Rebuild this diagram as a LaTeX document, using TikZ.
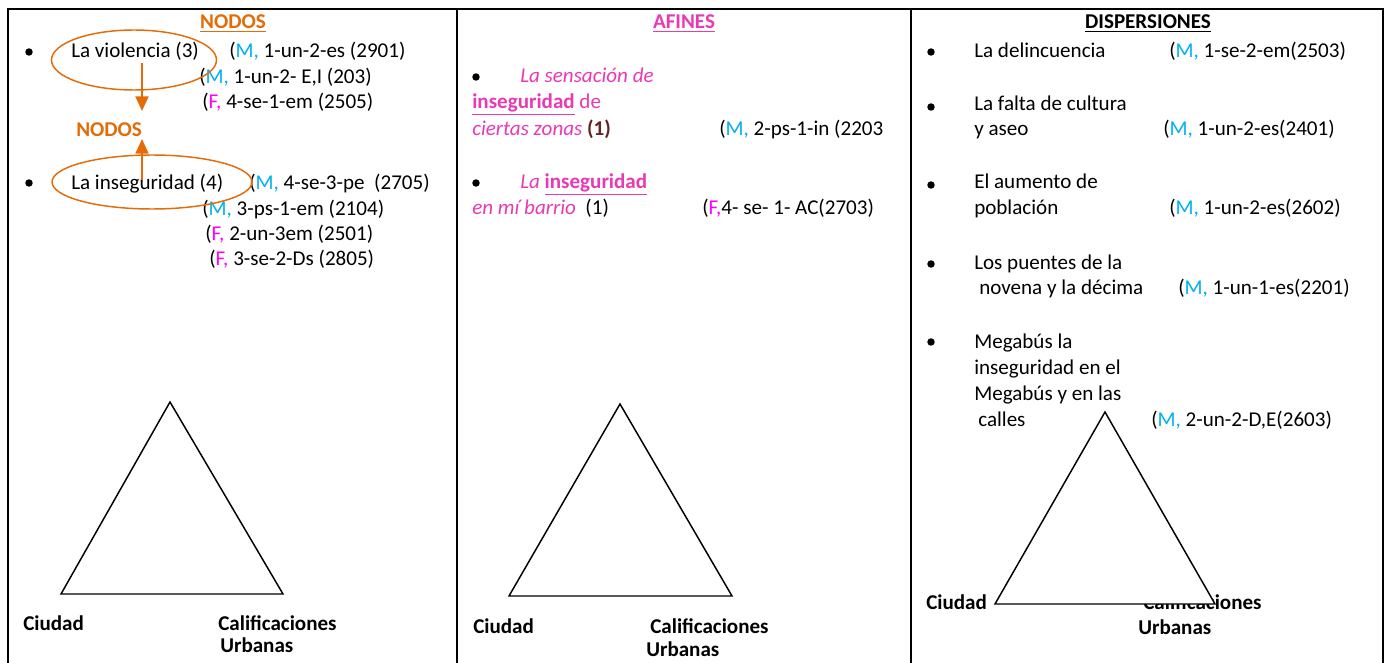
\documentclass[tikz,border=0pt]{standalone}
\usepackage{fontspec}
\setmainfont{Carlito}
\usetikzlibrary{arrows.meta,shapes.geometric}
\definecolor{norange}{HTML}{E36C09}
\definecolor{mcyan}{HTML}{00B0F0}
\definecolor{fmag}{HTML}{FF00FF}
\definecolor{apink}{HTML}{E83AB4}
\definecolor{dbrown}{HTML}{632523}
\newcommand{\Mc}{{\color{mcyan}M,}}
\newcommand{\Fc}{{\color{fmag}F,}}
\begin{document}
\begin{tikzpicture}[x=0.75pt,y=-0.75pt,
  txt/.style={anchor=base west,inner sep=0pt,font=\fontsize{15.8}{18}\selectfont},
  ttl/.style={anchor=base,inner sep=0pt,font=\fontsize{15.8}{18}\selectfont\bfseries},
  lbl/.style={txt,font=\fontsize{15.8}{18}\selectfont\bfseries},
  bul/.style={circle,fill=black,inner sep=0pt,minimum size=5.6pt},
  ovalo/.style={ellipse,draw=norange,line width=1.1pt,inner sep=0pt},
  flecha/.style={draw=norange,line width=1.5pt,-{Triangle[width=9.75pt,length=11pt]}},
  tri/.style={draw=black,line width=1.1pt,line join=miter},
  borde/.style={line width=1.5pt}]
\useasboundingbox (0,0) rectangle (1386,663);
\fill[white] (0,0) rectangle (1386,663);
% table lines
\draw[borde] (8,663) -- (8,9) -- (1383,9) -- (1383,663);
\draw[line width=1.3pt] (457,9) -- (457,663);
\draw[line width=1.3pt] (911,9) -- (911,663);

% ---------- column 1 ----------
\node[ttl,text=norange] (t1) at (233,29) {\underline{NODOS}};
\node[bul] (b11) at (29,52) {};
\node[txt] (v1) at (71,58) {La violencia (3)};
\node[txt] (v1a) at (229,58) {(\Mc{} 1-un-2-es (2901)};
\node[txt] (v1b) at (199,84) {(\Mc{} 1-un-2- E,I (203)};
\node[txt] (v1c) at (202,109) {(\Fc{} 4-se-1-em (2505)};
\node[ellipse,ovalo,minimum width=123.75pt,minimum height=45pt] (e1) at (134,60) {};
\node[lbl,text=norange] (n2) at (76,137) {NODOS};
\coordinate (a1s) at (142,63);
\coordinate (a1e) at (142,111);
\draw[flecha] (a1s) -- (a1e);

\node[bul] (b12) at (29,183) {};
\node[txt] (i1) at (71,190) {La inseguridad (4)};
\node[txt] (i1a) at (249,190) {(\Mc{} 4-se-3-pe\ \ (2705)};
\node[txt] (i1b) at (202,216) {(\Mc{} 3-ps-1-em (2104)};
\node[txt] (i1c) at (205,241) {(\Fc{} 2-un-3em (2501)};
\node[txt] (i1d) at (209,266) {(\Fc{} 3-se-2-Ds (2805)};
\node[ellipse,ovalo,minimum width=150pt,minimum height=40.5pt] (e2) at (152,182) {};
\coordinate (a2s) at (142,180);
\coordinate (a2e) at (142,139);
\draw[flecha] (a2s) -- (a2e);

\draw[tri] (170,402) -- (61,594) -- (283,594) -- cycle;
\node[lbl] (c1) at (23,630) {Ciudad};
\node[lbl] (k1) at (218,630) {Calificaciones};
\node[lbl] (u1) at (220,652) {Urbanas};

% ---------- column 2 ----------
\node[ttl,text=apink] (t2) at (684,29) {\underline{AFINES}};
\node[bul] (b21) at (476,77) {};
\node[txt,text=apink] (s1) at (520,83) {\itshape La sensación de};
\node[txt,text=apink] (s2) at (472,109) {\textbf{\underline{inseguridad}} de};
\node[txt,text=apink] (s3) at (472,136) {\itshape ciertas zonas \upshape{\color{dbrown}\textbf{(1)}}};
\node[txt] (s3a) at (719,136) {(\Mc{} 2-ps-1-in (2203};
\node[bul] (b22) at (476,183) {};
\node[txt,text=apink] (r1) at (520,189) {\itshape La \upshape\textbf{\underline{inseguridad}}};
\node[txt,text=apink] (r2) at (472,215) {\itshape en mí barrio\ \ \upshape{\color{black}(1)}};
\node[txt] (r2a) at (702,215) {(\Fc4- se- 1- AC(2703)};

\draw[tri] (620,404) -- (509,596) -- (732,596) -- cycle;
\node[lbl] (c2) at (473,633) {Ciudad};
\node[lbl] (k2) at (650,633) {Calificaciones};
\node[lbl] (u2) at (646,656) {Urbanas};

% ---------- column 3 ----------
\node[ttl] (t3) at (1148,29) {\underline{DISPERSIONES}};
\node[bul] (b31) at (931,52) {};
\node[txt] (d1) at (974,58) {La delincuencia};
\node[txt] (d1a) at (1169,58) {(\Mc{} 1-se-2-em(2503)};
\node[bul] (b32) at (931,107) {};
\node[txt] (d2) at (974,111) {La falta de cultura};
\node[txt] (d2b) at (974,136) {y aseo};
\node[txt] (d2a) at (1163,136) {(\Mc{} 1-un-2-es(2401)};
\node[bul] (b33) at (931,185) {};
\node[txt] (d3) at (974,189) {El aumento de};
\node[txt] (d3b) at (974,215) {población};
\node[txt] (d3a) at (1169,215) {(\Mc{} 1-un-2-es(2602)};
\node[bul] (b34) at (931,264) {};
\node[txt] (d4) at (974,269) {Los puentes de la};
\node[txt] (d4b) at (979,295) {novena y la décima};
\node[txt] (d4a) at (1178,295) {(\Mc{} 1-un-1-es(2201)};
\node[bul] (b35) at (931,342) {};
\node[txt] (d5) at (974,348) {Megabús la};
\node[txt] (d5b) at (974,374) {inseguridad en el};
\node[txt] (d5c) at (974,400) {Megabús y en las};
\node[txt] (d5d) at (978,426) {calles};
\node[txt] (d5a) at (1151,426) {(\Mc{} 2-un-2-D,E(2603)};

\node[lbl] (c3) at (926,609) {Ciudad};
\node[lbl] (k3) at (1143,609) {Calificaciones};
\node[lbl] (u3) at (1138,634) {Urbanas};
\draw[tri,fill=white] (1105,412) -- (995,604) -- (1215,604) -- cycle;
\end{tikzpicture}
\end{document}
